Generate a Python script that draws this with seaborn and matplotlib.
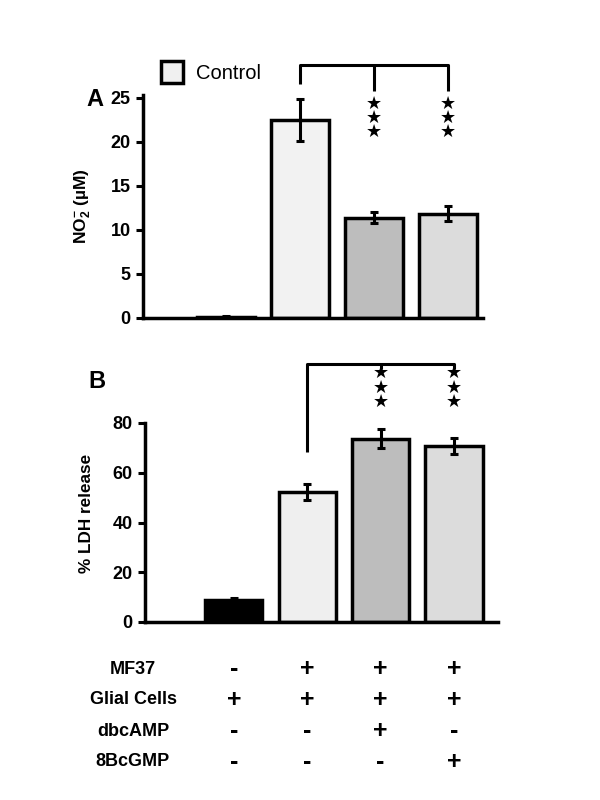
import numpy as np
import pandas as pd
import seaborn as sns
import matplotlib.pyplot as plt
from matplotlib.patches import Patch
from matplotlib.transforms import blended_transform_factory

# data
groups = ["g1", "g2", "g3", "g4"]
no2_mean = [0.15, 22.5, 11.4, 11.85]
no2_err = [0.05, 2.4, 0.65, 0.8]
ldh_mean = [9.0, 52.2, 73.6, 70.9]
ldh_err = [0.8, 3.2, 3.8, 3.2]
colors_a = ["#000000", "#f2f2f2", "#bdbdbd", "#dcdcdc"]
colors_b = ["#000000", "#efefef", "#bdbdbd", "#dcdcdc"]
row_names = ["MF37", "Glial Cells", "dbcAMP", "8BcGMP"]
row_signs = [["-", "+", "+", "+"],
             ["+", "+", "+", "+"],
             ["-", "-", "+", "-"],
             ["-", "-", "-", "+"]]

sns.set_theme(style="white")
plt.rcParams['font.family'] = ['Liberation Sans', 'DejaVu Sans']
plt.rcParams['mathtext.fontset'] = 'custom'
plt.rcParams['mathtext.rm'] = 'Liberation Sans:bold'
plt.rcParams['mathtext.it'] = 'Liberation Sans:bold'
plt.rcParams['mathtext.bf'] = 'Liberation Sans:bold'
for k in ['text.color', 'axes.labelcolor', 'xtick.color', 'ytick.color']:
    plt.rcParams[k] = 'black'

fig = plt.figure(figsize=(6, 8), dpi=100)
axA = fig.add_axes([143/600, 1-318/800, 340/600, 223/800])
axB = fig.add_axes([145/600, 1-622/800, 353/600, 199/800])


def draw_panel(ax, mean, err, colors, ylim, yticks):
    df = pd.DataFrame({"group": groups, "val": mean})
    sns.barplot(data=df, x="group", y="val", hue="group", palette=colors,
                legend=False, width=0.78, edgecolor="black", linewidth=2.5,
                ax=ax, errorbar=None)
    ax.errorbar(range(len(groups)), mean, yerr=err, fmt="none",
                ecolor="black", elinewidth=2.2, capsize=3, capthick=2.2)
    ax.set_ylim(*ylim)
    ax.set_yticks(yticks)
    ax.set_xticks([])
    ax.set_xlabel("")
    for s in ["top", "right"]:
        ax.spines[s].set_visible(False)
    for s in ["left", "bottom"]:
        ax.spines[s].set_linewidth(2.5)
        ax.spines[s].set_color("black")
    ax.tick_params(axis="y", left=True, length=5, width=2.2, labelsize=13,
                   pad=4, color="black")
    for t in ax.get_yticklabels():
        t.set_fontweight("bold")


draw_panel(axA, no2_mean, no2_err, colors_a, (0, 25.3), [0, 5, 10, 15, 20, 25])
axA.set_xlim(-1.12, 3.47)
axA.set_ylabel(r"NO$^{-}_{2}$ (µM)", fontsize=12.5, fontweight="bold")
axA.yaxis.set_label_coords(-0.147, 0.5)

draw_panel(axB, ldh_mean, ldh_err, colors_b, (0, 80), [0, 20, 40, 60, 80])
axB.set_xlim(-1.21, 3.6)
axB.set_ylabel("% LDH release", fontsize=12.3, fontweight="bold")
axB.yaxis.set_label_coords(-0.145, 0.548)

# significance brackets
kw = dict(color="black", lw=2.2, clip_on=False, solid_capstyle="butt")
axA.plot([1, 1, 3, 3], [26.5, 28.7, 28.7, 25.7], **kw)
axA.plot([2, 2], [28.7, 25.7], **kw)
axB.plot([1, 1, 3, 3], [68.3, 103.7, 103.7, 101.7], **kw)
axB.plot([2, 2], [103.7, 101.7], **kw)
for x in [2, 3]:
    axA.text(x, 22.7, "★\n★\n★", ha="center", va="center", fontsize=13,
             linespacing=0.72, family="DejaVu Sans")
    axB.text(x, 94.3, "★\n★\n★", ha="center", va="center", fontsize=13,
             linespacing=0.72, family="DejaVu Sans")

# legend
axA.legend(handles=[Patch(facecolor="#f0f0f0", edgecolor="black", lw=2.5)],
           labels=["Control"], loc="center left",
           bbox_to_anchor=(161/600, 1-72/800), bbox_transform=fig.transFigure,
           frameon=False, fontsize=14.5, handlelength=1.1, handleheight=1.25,
           handletextpad=0.65, borderpad=0, borderaxespad=0)

fig.text(95/600, 1-100/800, "A", fontsize=17, fontweight="bold",
         ha="center", va="center")
fig.text(97/600, 1-381/800, "B", fontsize=17, fontweight="bold",
         ha="center", va="center")

# treatment table
tr = blended_transform_factory(axB.transData, fig.transFigure)
row_y = [669, 700, 731, 762]
for name, signs, y in zip(row_names, row_signs, row_y):
    fig.text(133/600, 1-y/800, name, fontsize=13, fontweight="bold",
             ha="center", va="center")
    for i, s in enumerate(signs):
        axB.text(i, 1-y/800, s, transform=tr, fontsize=18, fontweight="bold",
                 ha="center", va="center")

fig.savefig("out.png", dpi=100)
